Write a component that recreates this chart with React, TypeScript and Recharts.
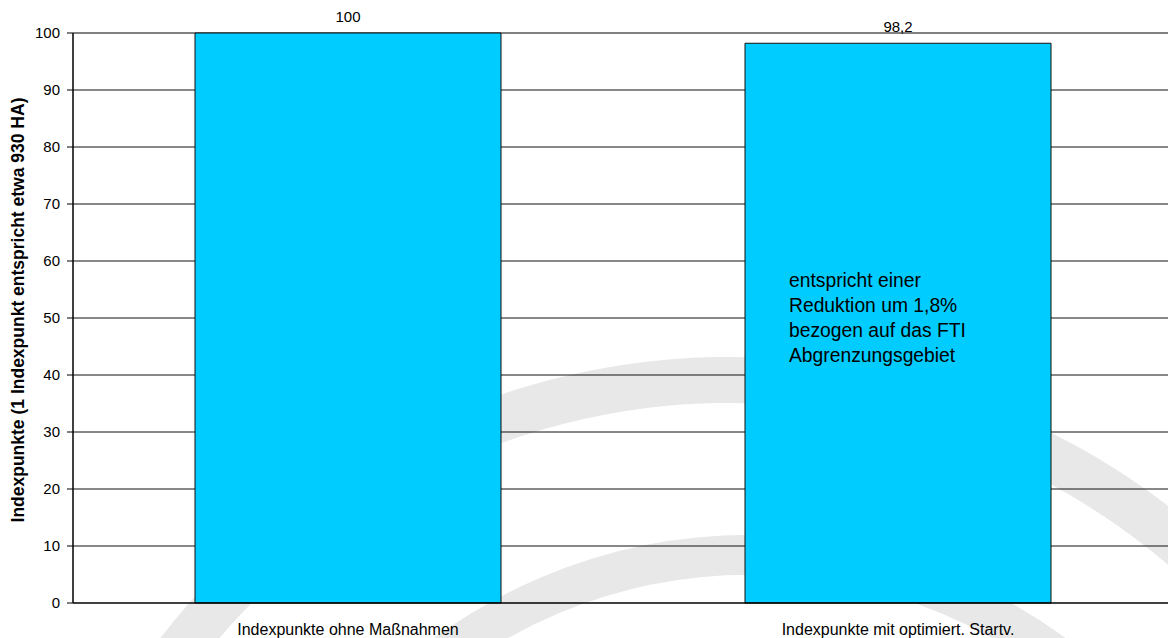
import { Bar, BarChart, CartesianGrid, LabelList, XAxis, YAxis } from "recharts";

const categories = ["Indexpunkte ohne Maßnahmen", "Indexpunkte mit optimiert. Startv."];
const indexValues = [100, 98.2];
const yTicks = [0, 10, 20, 30, 40, 50, 60, 70, 80, 90, 100];
const noteLines = ["entspricht einer", "Reduktion um 1,8%", "bezogen auf das FTI", "Abgrenzungsgebiet"];
const yAxisTitle = "Indexpunkte (1 Indexpunkt entspricht etwa 930 HA)";

const data = categories.map((name, i) => ({ name, value: indexValues[i] }));

const FONT = "'Liberation Sans', Arial, sans-serif";

// faint logo arcs behind the plot
function Watermark() {
  return (
    <svg width={1168} height={638} style={{ position: "absolute", left: 0, top: 0 }}>
      <path d="M 145 700 A 695 695 0 0 1 1300 677" fill="none" stroke="#e8e8e8" strokeWidth={46} />
      <path d="M 392 700 A 514 514 0 0 1 1108 700" fill="none" stroke="#e8e8e8" strokeWidth={40} />
    </svg>
  );
}

function AxisTitle(props: any) {
  const vb = props.viewBox;
  const cx = vb.x + 18;
  const cy = vb.y + vb.height / 2 - 8;
  return (
    <text
      x={cx}
      y={cy}
      transform={`rotate(-90 ${cx} ${cy})`}
      textAnchor="middle"
      dominantBaseline="central"
      fontFamily={FONT}
      fontSize={17.5}
      fontWeight="bold"
      fill="#000"
    >
      {yAxisTitle}
    </text>
  );
}

function NoteLabel(props: any) {
  const { x, y, index } = props;
  if (index !== 1) return null;
  return (
    <text x={x + 44} y={y + 244} fontFamily={FONT} fontSize={19.3} fill="#000">
      {noteLines.map((line, i) => (
        <tspan key={i} x={x + 44} dy={i === 0 ? 0 : 25}>
          {line}
        </tspan>
      ))}
    </text>
  );
}

export default function App() {
  return (
    <div style={{ position: "absolute", left: 0, top: 0, width: 1168, height: 638, overflow: "hidden", background: "#fff" }}>
      <Watermark />
      <div style={{ position: "absolute", left: 0, top: 0 }}>
        <BarChart
          width={1173}
          height={638}
          data={data}
          margin={{ top: 33, right: 0, bottom: 0, left: 0 }}
          barSize={306}
        >
          <CartesianGrid vertical={false} stroke="#111" horizontalValues={[10, 20, 30, 40, 50, 60, 70, 80, 90]} />
          <CartesianGrid vertical={false} stroke="#808080" strokeWidth={2} horizontalValues={[100]} />
          <XAxis
            dataKey="name"
            height={35}
            axisLine={{ stroke: "#000", strokeWidth: 1.5 }}
            tickLine={false}
            tickMargin={15}
            tick={{ fontFamily: FONT, fontSize: 16, fill: "#000" }}
            interval={0}
          />
          <YAxis
            width={73}
            domain={[0, 100]}
            ticks={yTicks}
            axisLine={{ stroke: "#000", strokeWidth: 1.5 }}
            tickLine={{ stroke: "#000" }}
            tickSize={6}
            tickMargin={7}
            tick={{ fontFamily: FONT, fontSize: 15, fill: "#000" }}
            label={{ content: AxisTitle }}
          />
          <Bar dataKey="value" fill="#00CCFF" stroke="#111" strokeWidth={1} isAnimationActive={false}>
            <LabelList
              dataKey="value"
              position="top"
              offset={11}
              formatter={(v: any) => String(v).replace(".", ",")}
              style={{ fontFamily: FONT, fontSize: 15, fill: "#000" }}
            />
            <LabelList dataKey="value" content={NoteLabel} />
          </Bar>
        </BarChart>
      </div>
    </div>
  );
}
